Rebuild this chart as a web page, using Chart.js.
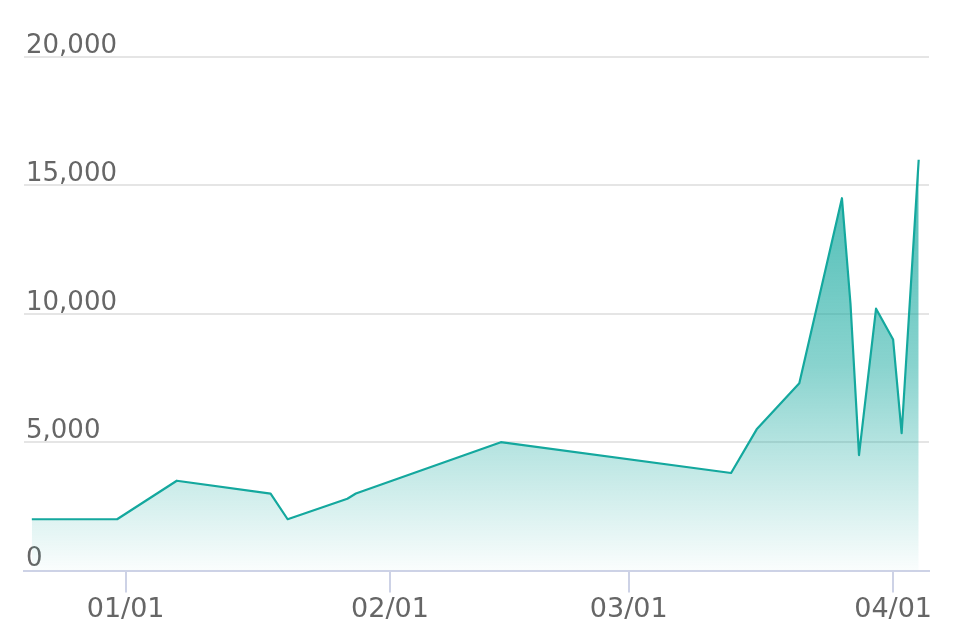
<!DOCTYPE html>
<html>
<head>
<meta charset="utf-8">
<script src="https://cdn.jsdelivr.net/npm/chart.js@4.4.0/dist/chart.umd.min.js"></script>
<style>
  html, body { margin: 0; padding: 0; background: #ffffff; }
  #wrap { width: 954px; height: 644px; position: relative; }
</style>
</head>
<body>
<div id="wrap"><canvas id="c" width="954" height="644"></canvas></div>
<script>
// ---- data ----
const dates = ['2018-12-21','2018-12-31','2019-01-07','2019-01-18','2019-01-20','2019-01-27','2019-01-28',
               '2019-02-14','2019-03-13','2019-03-16','2019-03-21','2019-03-26','2019-03-27','2019-03-28',
               '2019-03-30','2019-04-01','2019-04-02','2019-04-04'];
const values = [2000, 2000, 3500, 3000, 2000, 2800, 3000,
                5000, 3800, 5500, 7300, 14500, 10400, 4500,
                10200, 9000, 5350, 16000];
const xTickDates = ['2019-01-01','2019-02-01','2019-03-01','2019-04-01'];
const xTickLabels = ['01/01','02/01','03/01','04/01'];
const yTicks = [0, 5000, 10000, 15000, 20000];
const xMin = '2018-12-20T02:00:00Z';
const xMax = '2019-04-05T05:00:00Z';

const toMs = s => Date.parse(s.length === 10 ? s + 'T00:00:00Z' : s);
const points = dates.map((d, i) => ({ x: toMs(d), y: values[i] }));
const xTickMs = xTickDates.map(toMs);

const FONT = '"DejaVu Sans", sans-serif';

new Chart(document.getElementById('c'), {
  type: 'line',
  data: {
    datasets: [{
      data: points,
      borderColor: '#14a89e',
      borderWidth: 2.2,
      borderJoinStyle: 'round',
      pointRadius: 0,
      tension: 0,
      fill: 'origin',
      backgroundColor: (ctx) => {
        const ca = ctx.chart.chartArea;
        if (!ca) return 'rgba(20,168,158,0.3)';
        const g = ctx.chart.ctx.createLinearGradient(0, ca.top, 0, ca.bottom);
        g.addColorStop(0, 'rgba(20,168,158,0.92)');
        g.addColorStop(0.6, 'rgba(20,168,158,0.5)');
        g.addColorStop(1, 'rgba(20,168,158,0.02)');
        return g;
      }
    }]
  },
  options: {
    responsive: false,
    animation: false,
    layout: { padding: { left: 20, right: 25, top: 57, bottom: 17 } },
    plugins: { legend: { display: false }, tooltip: { enabled: false } },
    scales: {
      x: {
        type: 'linear',
        min: toMs(xMin),
        max: toMs(xMax),
        afterBuildTicks: (axis) => { axis.ticks = xTickMs.map(v => ({ value: v })); },
        ticks: {
          color: '#666',
          font: { family: FONT, size: 27 },
          padding: 1,
          maxRotation: 0,
          autoSkip: false,
          callback: (v) => { const i = xTickMs.indexOf(v); return i >= 0 ? xTickLabels[i] : ''; }
        },
        grid: { drawOnChartArea: false, drawTicks: true, tickLength: 22, color: '#cdd2e6', lineWidth: 2 },
        border: { display: true, color: '#cdd2e6', width: 2 }
      },
      y: {
        min: 0,
        max: 20000,
        afterBuildTicks: (axis) => { axis.ticks = yTicks.map(v => ({ value: v })); },
        ticks: {
          mirror: true,
          padding: 2,
          labelOffset: -11,
          color: '#666',
          font: { family: FONT, size: 26 },
          callback: (v) => v.toLocaleString('en-US')
        },
        grid: { drawTicks: false, color: 'rgba(0,0,0,0.1)', lineWidth: 2 },
        border: { display: false }
      }
    }
  }
});
</script>
</body>
</html>
